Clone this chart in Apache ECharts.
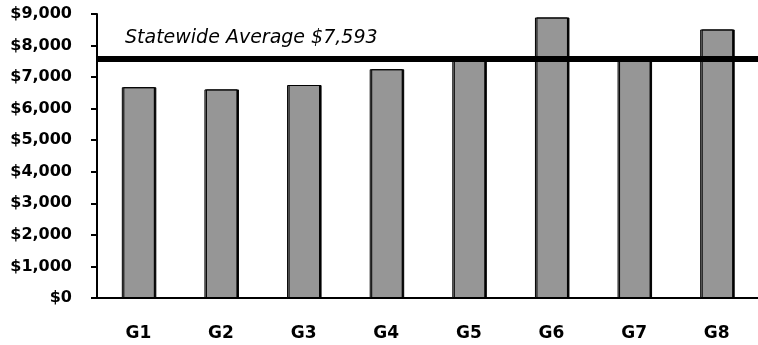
<!DOCTYPE html>
<html>
<head>
<meta charset="utf-8">
<script src="https://cdn.jsdelivr.net/npm/echarts@6/dist/echarts.min.js"></script>
<style>
  html, body { margin: 0; padding: 0; background: #fff; }
  #chart { width: 758px; height: 345px; }
</style>
</head>
<body>
<div id="chart"></div>
<script>
var categories = ['G1', 'G2', 'G3', 'G4', 'G5', 'G6', 'G7', 'G8'];
var values = [6680, 6610, 6750, 7250, 7520, 8890, 7520, 8510];
var statewideAvg = 7593;
var yTicks = [0, 1000, 2000, 3000, 4000, 5000, 6000, 7000, 8000, 9000];

function money(v) {
  return '$' + v.toLocaleString('en-US');
}

var myChart = echarts.init(document.getElementById('chart'));
var option = {
  animation: false,
  grid: { left: 97, right: -1, top: 14, bottom: 47 },
  xAxis: {
    type: 'category',
    data: categories,
    axisLine: { lineStyle: { color: '#000', width: 2 } },
    axisTick: { length: 7, lineStyle: { color: '#000', width: 2 } },
    axisLabel: {
      margin: 27,
      color: '#000',
      fontFamily: 'DejaVu Sans',
      fontWeight: 'bold',
      fontSize: 17
    }
  },
  yAxis: {
    type: 'value',
    min: yTicks[0],
    max: yTicks[yTicks.length - 1],
    interval: 1000,
    splitLine: { show: false },
    axisLine: { show: true, lineStyle: { color: '#000', width: 2 } },
    axisTick: { show: true, length: 6, lineStyle: { color: '#000', width: 2 } },
    axisLabel: {
      margin: 25,
      color: '#000',
      fontFamily: 'DejaVu Sans',
      fontWeight: 'bold',
      fontSize: 16,
      formatter: money
    }
  },
  series: [{
    type: 'bar',
    data: values,
    barWidth: 33,
    itemStyle: {
      color: '#969696',
      borderColor: '#000',
      borderWidth: 1,
      shadowColor: '#000',
      shadowOffsetX: 1.5,
      shadowBlur: 0
    },
    markLine: {
      silent: true,
      symbol: ['none', 'none'],
      z: 10,
      lineStyle: { color: '#000', width: 6, type: 'solid' },
      label: {
        show: true,
        position: 'insideStartTop',
        distance: [28, 11],
        color: '#000',
        fontFamily: 'DejaVu Sans',
        fontStyle: 'italic',
        fontSize: 19,
        formatter: 'Statewide Average ' + money(statewideAvg)
      },
      data: [{ yAxis: statewideAvg }]
    }
  }]
};
myChart.setOption(option);
window.onresize = function () {
  myChart.resize();
};
</script>
</body>
</html>
